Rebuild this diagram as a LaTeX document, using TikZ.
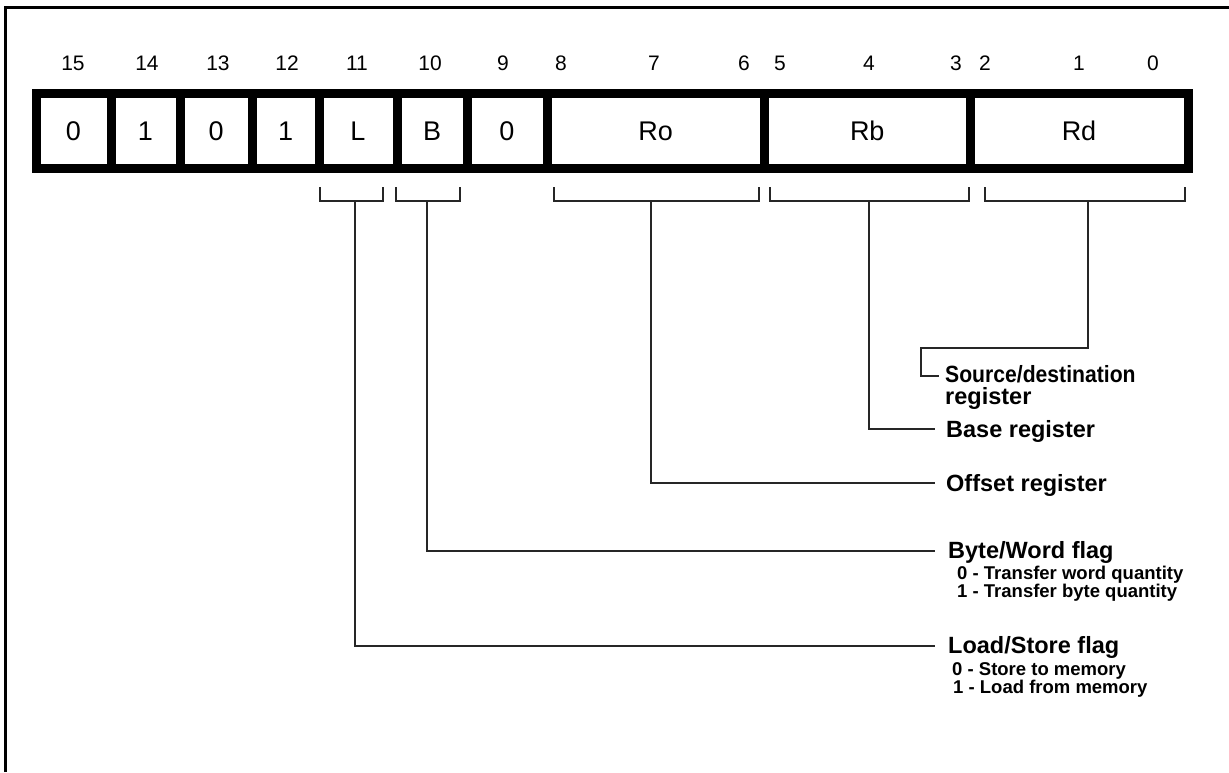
\documentclass[tikz,border=0pt]{standalone}
\usepackage{fontspec}
\setmainfont{Liberation Sans}
\begin{document}
\begin{tikzpicture}[x=1pt,y=-1pt,
  cellbox/.style={draw=black,line width=9pt,minimum height=74.5pt,inner sep=0pt,font=\fontsize{27}{30}\selectfont},
  bitnum/.style={font=\fontsize{21}{24}\selectfont,inner sep=0pt},
  lead/.style={draw=black!85,line width=1.3pt},
  head/.style={font=\bfseries\fontsize{23.5}{24}\selectfont,anchor=base west,inner sep=0pt},
  sub/.style={font=\bfseries\fontsize{18.5}{18.5}\selectfont,anchor=base west,inner sep=0pt}]
\useasboundingbox (0,0) rectangle (1229,772);
% frame
\draw[line width=3pt] (5.5,772) -- (5.5,7.5) -- (1229,7.5);
% cells
\foreach \name/\xa/\xb/\txt in {c15/36/111/0, c14/111/180/1, c13/180/252.5/0, c12/252.5/319/1, c11/319/397/L, c10/397/467/B, c9/467/547/0, ro/547/764.5/Ro, rb/764.5/970/Rb, rd/970/1188/Rd}{
  \pgfmathsetmacro\w{\xb-\xa}
  \node[cellbox,minimum width=\w pt] (\name) at ({(\xa+\xb)/2},131) {\txt};
}
% bit numbers
\foreach \n/\x in {15/73,14/147,13/218,12/287,11/357,10/430,9/503,8/561,7/654,6/744,5/780,4/869,3/956,2/985,1/1079,0/1153}{
  \node[bitnum] (n\n) at (\x,63) {\n};
}
% brackets
\foreach \name/\xa/\xb/\xm in {bL/320/383/355, bB/396/460/427, bRo/554/759/651, bRb/770/969/869, bRd/985/1185/1088}{
  \draw[lead] (\xa,187) -- (\xa,201) -- (\xb,201) -- (\xb,187);
  \coordinate (\name) at (\xm,201);
}
% end coordinates
\coordinate (eRd1) at (921,348);
\coordinate (eRd) at (939,376);
\coordinate (eRb) at (935,429);
\coordinate (eRo) at (935,483);
\coordinate (eB) at (935,551);
\coordinate (eL) at (935,646);
% connectors
\draw[lead] (bRd) |- (eRd1) |- (eRd);
\draw[lead] (bRb) |- (eRb);
\draw[lead] (bRo) |- (eRo);
\draw[lead] (bB) |- (eB);
\draw[lead] (bL) |- (eL);
% labels
\node[head] (tRd) at (945,382) {\scalebox{0.9}[1]{Source/destination}};
\node[head] (tRd2) at (945,404) {register};
\node[head] (tRb) at (946,437) {Base register};
\node[head] (tRo) at (946,491) {Offset register};
\node[head] (tB) at (948,558.5) {Byte/Word flag};
\node[sub] (tB0) at (957,579.5) {0 - Transfer word quantity};
\node[sub] (tB1) at (957,597) {1 - Transfer byte quantity};
\node[head] (tL) at (948,653.5) {Load/Store flag};
\node[sub] (tL0) at (952,675) {0 - Store to memory};
\node[sub] (tL1) at (953,693) {1 - Load from memory};
\end{tikzpicture}
\end{document}
